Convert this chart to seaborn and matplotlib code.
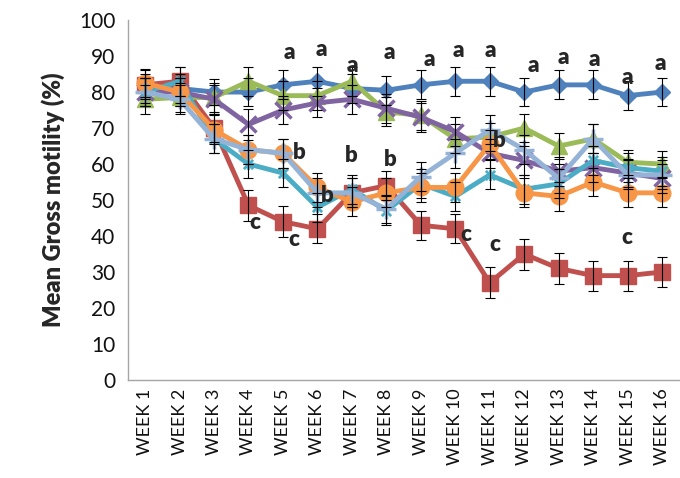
import numpy as np
import pandas as pd
import seaborn as sns
import matplotlib.pyplot as plt
from matplotlib.path import Path

# week labels
weeks = ['WEEK 1', 'WEEK 2', 'WEEK 3', 'WEEK 4', 'WEEK 5', 'WEEK 6', 'WEEK 7', 'WEEK 8',
         'WEEK 9', 'WEEK 10', 'WEEK 11', 'WEEK 12', 'WEEK 13', 'WEEK 14', 'WEEK 15', 'WEEK 16']

# mean gross motility per group (%)
blue = [81, 81, 80, 80, 82, 83, 81, 80.5, 82, 83, 83, 80, 82, 82, 79, 80]
red = [82, 83, 70, 48.5, 44, 42, 52, 54, 43, 42, 27, 35, 31, 29, 29, 30]
green = [78, 78.5, 78.5, 83, 79, 79, 83, 74.5, 73.5, 67, 67.5, 70, 65, 67, 60.5, 60]
purple = [80, 80, 78, 71, 75, 77, 78, 75.5, 73, 69, 63, 61, 58, 59, 57.5, 56]
teal = [80, 83, 67, 60, 57.5, 48, 53, 47, 54.5, 51, 57, 53, 54.5, 61, 59, 58]
orange = [82.5, 80, 69.5, 64, 63, 53.5, 49.5, 52, 53.5, 53.5, 65.5, 52, 51, 55, 52, 52]
lightblue = [80, 78, 67, 64, 63, 52, 52, 47.5, 56.5, 63, 69.5, 64, 56, 67, 57, 57]

# standard errors
blue_err = [4, 4, 3.5, 4, 4, 4, 4, 4, 4, 4, 4, 4, 4, 4, 4, 4]
red_err = [4, 4, 4, 4.2, 4.4, 4, 4, 4, 4, 4, 4.3, 4.3, 4.2, 4.2, 4.2, 4.2]
green_err = [4, 4, 4, 4, 4, 4, 4, 4, 4, 4, 4, 4, 3.5, 4, 3.5, 3.5]
purple_err = [4, 4, 4, 4.4, 4, 4, 4, 4, 4, 4, 4, 4, 4, 4, 4, 4]
teal_err = [4, 4, 4, 4, 4, 4, 4, 4, 4, 4, 4, 4, 4, 4, 4, 4]
orange_err = [4, 4, 4, 4, 4, 4, 4, 4, 4, 4, 4, 4, 4, 4, 4, 4]
lightblue_err = [4, 4, 4, 4, 4, 4, 4, 4, 4, 4, 4, 4, 4, 4, 4, 4]

# excel style star marker (X plus vertical bar)
star = Path([(-1, -1), (1, 1), (-1, 1), (1, -1), (0, -1.2), (0, 1.2)],
            [Path.MOVETO, Path.LINETO, Path.MOVETO, Path.LINETO, Path.MOVETO, Path.LINETO])

series = [
    ('blue', blue, blue_err, '#4F81BD', 'D', 8, 1),
    ('red', red, red_err, '#C0504D', 's', 11.5, 1),
    ('green', green, green_err, '#9BBB59', '^', 12, 1),
    ('purple', purple, purple_err, '#8064A2', 'x', 11, 2.5),
    ('teal', teal, teal_err, '#4BACC6', star, 8, 2),
    ('orange', orange, orange_err, '#F79646', 'o', 12, 1),
    ('lightblue', lightblue, lightblue_err, '#95B3D7', '+', 14, 2.5),
]
values = {s[0]: s[1] for s in series}

sns.set_style('white')
plt.rcParams['font.family'] = ['Lato', 'DejaVu Sans']

fig = plt.figure(figsize=(6.8, 4.78), dpi=100)
ax = fig.add_axes([0.188, 0.205, 0.811, 0.753])

x = np.arange(len(weeks))
for name, vals, err, col, mk, ms, mew in series:
    df = pd.DataFrame({'week': x, 'value': vals})
    sns.lineplot(data=df, x='week', y='value', color=col, marker=mk, markersize=ms,
                 markeredgecolor=col, markeredgewidth=mew, linewidth=3.5,
                 errorbar=None, ax=ax)
    ax.errorbar(x, vals, yerr=err, fmt='none', ecolor='black', elinewidth=0.8,
                capsize=3.5, capthick=0.8, zorder=5)

# significance letters: (series, week index, letter, dx px, dy px)
letters = [
    ('blue', 4, 'a', 6, 32), ('blue', 5, 'a', 4, 32), ('blue', 6, 'a', 0, 23),
    ('blue', 7, 'a', 3, 38), ('blue', 8, 'a', 9, 25), ('blue', 9, 'a', 3, 31),
    ('blue', 10, 'a', 1, 31), ('blue', 11, 'a', 9, 27), ('blue', 12, 'a', 5, 27),
    ('blue', 13, 'a', 1, 25), ('blue', 14, 'a', 0, 18), ('blue', 15, 'a', -2, 29),
    ('lightblue', 4, 'b', 16, 1), ('orange', 5, 'b', 10, -8), ('teal', 6, 'b', -1, 34),
    ('red', 7, 'b', 4, 26), ('orange', 10, 'b', 10, 4),
    ('red', 3, 'c', 6, -17), ('red', 4, 'c', 11, -18), ('red', 9, 'c', 11, -6),
    ('red', 10, 'c', 5, 38), ('red', 14, 'c', -1, 38),
]
for name, i, let, dx, dy in letters:
    ax.annotate(let, xy=(i, values[name][i]), xytext=(dx, dy), textcoords='offset pixels',
                ha='center', va='center', fontsize=16, fontweight='heavy', zorder=6)

ax.set_xlim(-0.5, len(weeks) - 0.5)
ax.set_ylim(0, 100)
ax.set_yticks(range(0, 101, 10))
ax.set_xticks(x)
ax.set_xticklabels(weeks, rotation=90, fontsize=13, color='#111111')
ax.set_xticks(np.arange(-0.5, len(weeks)), minor=True)
ax.tick_params(axis='x', which='major', length=0, pad=6)
ax.tick_params(axis='x', which='minor', length=5, color='#A6A6A6', width=1, direction='out')
ax.tick_params(axis='y', length=5, color='#A6A6A6', width=1, direction='out',
               labelsize=15, labelcolor='#111111', pad=4)
ax.set_xlabel('')
ax.set_ylabel('Mean Gross motility (%)', fontsize=17, fontweight='heavy', labelpad=10)

for s in ['top', 'right']:
    ax.spines[s].set_visible(False)
for s in ['left', 'bottom']:
    ax.spines[s].set_color('#A6A6A6')
    ax.spines[s].set_linewidth(1)

fig.savefig('out.png', dpi=100)
